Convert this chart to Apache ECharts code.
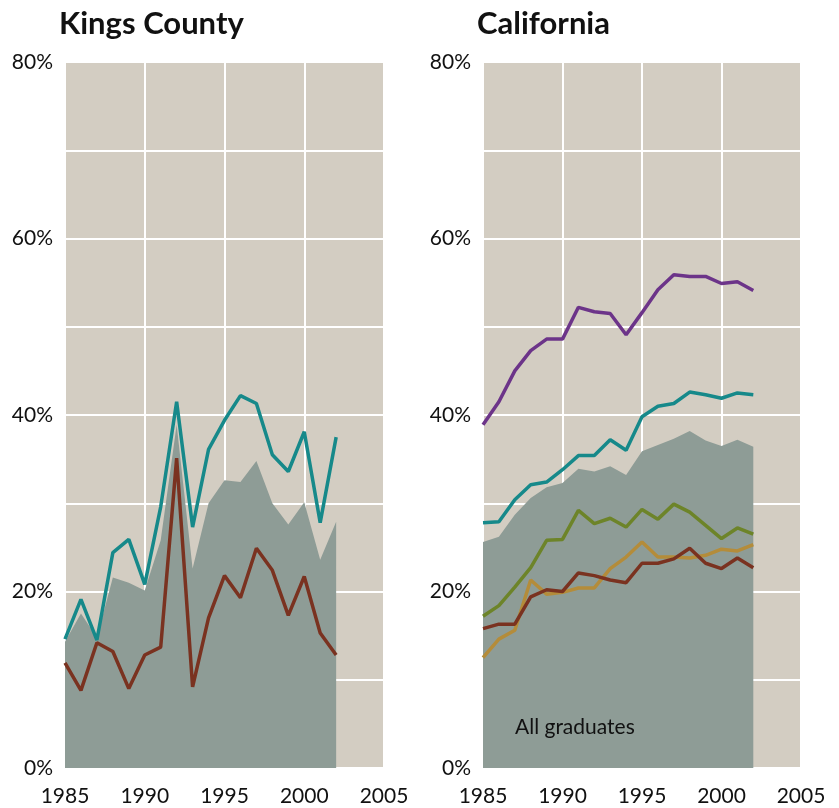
<!DOCTYPE html>
<html>
<head>
<meta charset="utf-8">
<script src="https://cdn.jsdelivr.net/npm/echarts@6/dist/echarts.min.js"></script>
<style>
  html, body { margin: 0; padding: 0; background: #fff; }
  #chart { width: 839px; height: 808px; }
</style>
</head>
<body>
<div id="chart"></div>
<script>
// years 1985 - 2002
var years = [1985, 1986, 1987, 1988, 1989, 1990, 1991, 1992, 1993, 1994, 1995, 1996, 1997, 1998, 1999, 2000, 2001, 2002];

// Kings County
var kingsAll = [14.3, 17.5, 14.8, 21.6, 21.0, 20.1, 25.8, 38.9, 22.6, 30.0, 32.6, 32.4, 34.8, 30.0, 27.6, 30.1, 23.6, 27.9];
var kingsTeal = [14.6, 19.1, 14.5, 24.4, 25.9, 20.8, 29.6, 41.5, 27.3, 36.1, 39.4, 42.2, 41.3, 35.5, 33.6, 38.1, 27.8, 37.5];
var kingsBrown = [11.9, 8.8, 14.2, 13.2, 9.0, 12.8, 13.7, 35.1, 9.2, 17.0, 21.8, 19.3, 24.9, 22.4, 17.3, 21.7, 15.3, 12.8];

// California
var caAll = [25.6, 26.2, 28.7, 30.6, 31.8, 32.3, 33.9, 33.6, 34.2, 33.2, 35.9, 36.6, 37.3, 38.2, 37.1, 36.5, 37.2, 36.4];
var caPurple = [38.9, 41.5, 45.0, 47.3, 48.6, 48.6, 52.2, 51.7, 51.5, 49.1, 51.6, 54.2, 55.9, 55.7, 55.7, 54.9, 55.1, 54.1];
var caTeal = [27.8, 27.9, 30.4, 32.1, 32.4, 33.8, 35.4, 35.4, 37.2, 36.0, 39.8, 41.0, 41.3, 42.6, 42.3, 41.9, 42.5, 42.3];
var caOlive = [17.2, 18.4, 20.5, 22.7, 25.8, 25.9, 29.2, 27.7, 28.3, 27.3, 29.3, 28.2, 29.9, 29.0, 27.5, 26.0, 27.2, 26.5];
var caGold = [12.5, 14.6, 15.6, 21.3, 19.7, 19.9, 20.4, 20.4, 22.6, 23.9, 25.6, 23.9, 23.9, 23.8, 24.1, 24.8, 24.6, 25.3];
var caBrown = [15.8, 16.3, 16.3, 19.4, 20.2, 20.0, 22.1, 21.8, 21.3, 21.0, 23.2, 23.2, 23.7, 24.9, 23.2, 22.6, 23.8, 22.7];

var yTicks = [0, 20, 40, 60, 80];

var font = 'Lato, "Open Sans", sans-serif';

function pairs(vals) {
  return years.map(function (y, i) { return [y, vals[i]]; });
}

function xAxisOf(idx) {
  return {
    type: 'value', gridIndex: idx, min: 1985, max: 2005, interval: 5,
    axisLine: { show: false }, axisTick: { show: false },
    axisLabel: {
      color: '#111', fontSize: 21, fontFamily: font, margin: 18,
      formatter: function (v) { return String(v); }
    },
    splitLine: { show: true, lineStyle: { color: '#ffffff', width: 2 } }
  };
}

function yAxisOf(idx) {
  return {
    type: 'value', gridIndex: idx, min: 0, max: 80, interval: 10,
    axisLine: { show: false }, axisTick: { show: false },
    axisLabel: {
      color: '#111', fontSize: 21, fontFamily: font, margin: 12,
      formatter: function (v) { return yTicks.indexOf(v) >= 0 ? v + '%' : ''; }
    },
    splitLine: { show: true, lineStyle: { color: '#ffffff', width: 2 } }
  };
}

function areaSeries(idx, vals) {
  return {
    type: 'line', xAxisIndex: idx, yAxisIndex: idx, data: pairs(vals),
    symbol: 'none', z: 1, silent: true,
    lineStyle: { width: 0 },
    areaStyle: { color: '#8e9c96', opacity: 1 }
  };
}

function lineSeries(idx, vals, color) {
  return {
    type: 'line', xAxisIndex: idx, yAxisIndex: idx, data: pairs(vals),
    symbol: 'none', z: 3,
    lineStyle: { width: 3.5, color: color }
  };
}

var chart = echarts.init(document.getElementById('chart'));
chart.setOption({
  animation: false,
  title: [
    { text: 'Kings County', left: 54, top: 3, textStyle: { fontFamily: font, fontWeight: 'bold', fontSize: 31, color: '#111' } },
    { text: 'California', left: 472, top: 3, textStyle: { fontFamily: font, fontWeight: 'bold', fontSize: 31, color: '#111' } }
  ],
  grid: [
    { left: 65, top: 62, width: 319, height: 706, show: true, backgroundColor: '#d3cdc2', borderWidth: 0 },
    { left: 483, top: 62, width: 318, height: 706, show: true, backgroundColor: '#d3cdc2', borderWidth: 0 }
  ],
  xAxis: [xAxisOf(0), xAxisOf(1)],
  yAxis: [yAxisOf(0), yAxisOf(1)],
  graphic: [
    { type: 'text', left: 515, top: 717, z: 10, style: { text: 'All graduates', fontFamily: font, fontSize: 21, fill: '#111' } }
  ],
  series: [
    areaSeries(0, kingsAll),
    lineSeries(0, kingsTeal, '#16898a'),
    lineSeries(0, kingsBrown, '#7a3220'),
    areaSeries(1, caAll),
    lineSeries(1, caPurple, '#6c3489'),
    lineSeries(1, caTeal, '#16898a'),
    lineSeries(1, caOlive, '#6d8429'),
    lineSeries(1, caGold, '#b48c3a'),
    lineSeries(1, caBrown, '#7a3220')
  ]
});
</script>
</body>
</html>
